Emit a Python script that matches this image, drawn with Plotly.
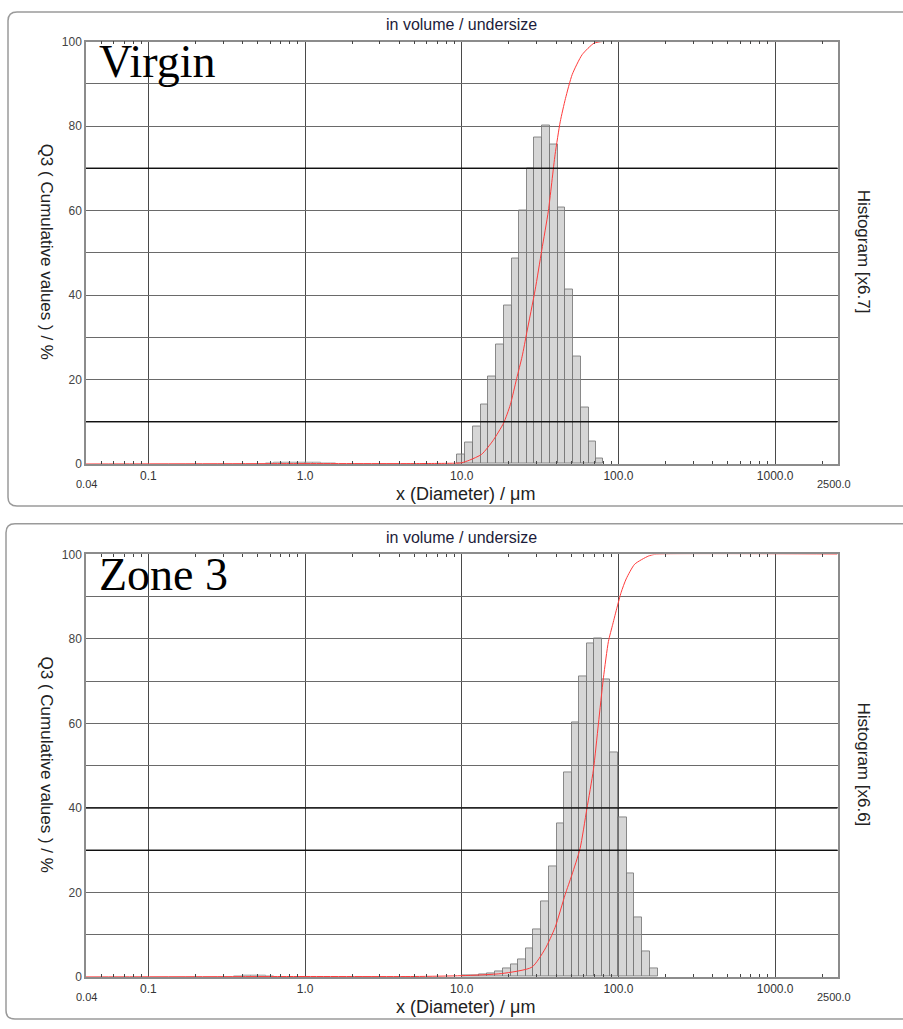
import numpy as np
import plotly.graph_objects as go

W, H = 903, 1029

# ---------------- data ----------------
# Panel 1: Virgin  (histogram shown on the 0-100 scale, x6.7)
virgin_edges_um = [9.3, 10.5, 11.75, 13.2, 14.8, 16.6, 18.5, 20.8, 23.2, 26.0,
                   29.0, 32.4, 36.6, 41.0, 45.7, 51.6, 57.5, 64.4, 71.9, 80.2]
virgin_hist = [2.3, 5.0, 8.9, 14.0, 20.6, 28.2, 37.4, 48.6, 59.9, 70.0,
               77.2, 80.2, 75.6, 60.7, 41.2, 25.5, 13.4, 5.4, 1.2]
virgin_fine_edges_um = [0.56, 0.63, 0.71, 0.79, 0.89, 1.0, 1.12, 1.26, 1.41, 1.58]
virgin_fine_hist = [0.2, 0.3, 0.4, 0.4, 0.4, 0.3, 0.3, 0.2, 0.2]
virgin_cum_x_um = [0.04, 1.0, 5.0, 9.3, 10.0, 11.2, 13.4, 15.8, 18.5, 20.4, 22.4,
                   24.3, 26.0, 29.4, 32.4, 35.7, 39.4, 42.5, 45.9, 50.7, 58.7,
                   69.8, 78.9, 100.0, 2500.0]
virgin_cum = [0.0, 0.1, 0.1, 0.2, 0.3, 0.9, 2.3, 5.5, 9.7, 14.0, 20.2,
              25.5, 31.1, 41.2, 50.6, 59.9, 73.2, 81.0, 86.5, 92.2, 96.9,
              99.6, 100.0, 100.0, 100.0]

# Panel 2: Zone 3  (histogram x6.6)
zone3_edges_um = [10.0, 11.3, 12.8, 14.45, 16.3, 18.45, 20.65, 23.0, 25.6, 28.6,
                  32.1, 36.1, 40.4, 45.2, 50.4, 56.4, 62.8, 70.3, 79.1, 88.5,
                  100.0, 113.0, 126.5, 141.0, 159.0, 178.0]
zone3_hist = [0.3, 0.4, 0.6, 0.9, 1.4, 1.9, 2.9, 4.1, 6.8, 11.3,
              17.9, 26.1, 36.4, 48.4, 60.3, 71.2, 79.0, 80.0, 70.4, 53.1,
              37.7, 24.4, 14.0, 6.0, 2.1]
zone3_fine_edges_um = [0.35, 0.40, 0.45, 0.50, 0.56, 0.63]
zone3_fine_hist = [0.2, 0.3, 0.3, 0.3, 0.2]
zone3_cum_x_um = [0.04, 1.0, 5.0, 10.0, 18.0, 28.0, 34.0, 39.4, 45.7, 50.4, 56.9,
                  62.8, 69.2, 74.5, 80.2, 86.3, 92.0, 98.0, 104.0, 112.0, 127.0,
                  155.0, 170.0, 2500.0]
zone3_cum = [0.0, 0.1, 0.1, 0.3, 0.8, 2.3, 6.6, 11.7, 19.5, 24.1, 30.4,
             39.7, 49.0, 59.9, 70.8, 79.4, 83.5, 87.5, 91.0, 94.2, 97.7,
             99.6, 100.0, 100.0]

x_tick_um = [0.1, 1.0, 10.0, 100.0, 1000.0]
x_tick_text = ["0.1", "1.0", "10.0", "100.0", "1000.0"]
x_min_um, x_max_um = 0.04, 2500.0
y_ticks = list(range(0, 101, 10))
y_tick_text = [str(v) if v % 20 == 0 else "" for v in y_ticks]
emph_lines = {"top": [70, 10], "bottom": [40, 30]}

panels = [
    dict(name="Virgin", key="top", edges=virgin_edges_um, hist=virgin_hist,
         fedges=virgin_fine_edges_um, fhist=virgin_fine_hist,
         cx=virgin_cum_x_um, cy=virgin_cum, factor="Histogram [x6.7]",
         y_top=35, y_bot=463.3, box=(8, 5, 912, 506)),
    dict(name="Zone 3", key="bottom", edges=zone3_edges_um, hist=zone3_hist,
         fedges=zone3_fine_edges_um, fhist=zone3_fine_hist,
         cx=zone3_cum_x_um, cy=zone3_cum, factor="Histogram [x6.6]",
         y_top=555, y_bot=983.3, box=(6, 524, 912, 1026)),
]

X0, X1 = 86, 837.5


def px(x):
    return x / W


def py(y):
    return 1 - y / H


minor_um = []
for dec in [0.01, 0.1, 1, 10, 100, 1000]:
    for m in range(2, 10):
        v = m * dec
        if x_min_um < v < x_max_um:
            minor_um.append(v)

fig = go.Figure()
shapes = []
annotations = []
FONT = "Liberation Sans, Arial, sans-serif"

for i, p in enumerate(panels):
    n = "" if i == 0 else str(i + 1)
    xa, ya = "x" + n, "y" + n
    # tiny sub-micron bars + main bars
    for edges, hist, lc in [(p["fedges"], p["fhist"], "rgba(150,150,150,0.5)"),
                            (p["edges"], p["hist"], "rgba(120,120,120,0.85)")]:
        le = np.log10(np.array(edges))
        centers = (le[:-1] + le[1:]) / 2
        widths = le[1:] - le[:-1]
        fig.add_trace(go.Bar(
            x=centers, y=hist, width=widths, base=0,
            marker=dict(color="rgba(165,165,165,0.45)",
                        line=dict(color=lc, width=1)),
            xaxis=xa, yaxis=ya, showlegend=False, hoverinfo="skip"))
    fig.add_trace(go.Scatter(
        x=np.log10(np.array(p["cx"])), y=p["cy"], mode="lines",
        line=dict(color="#ff3b3b", width=1, shape="spline", smoothing=0.6),
        xaxis=xa, yaxis=ya, showlegend=False, hoverinfo="skip"))

    dom_y = [py(p["y_bot"]), py(p["y_top"])]
    fig.update_layout(**{
        ("xaxis" + n): dict(
            domain=[px(X0), px(X1)], anchor=ya,
            range=[np.log10(x_min_um), np.log10(x_max_um)],
            tickmode="array", tickvals=list(np.log10(x_tick_um)), ticktext=x_tick_text,
            ticks="", showgrid=True, gridcolor="#4a4a4a", gridwidth=1.4,
            showline=True, linecolor="#8c8c8c", linewidth=1.5, mirror="ticks",
            zeroline=False, tickfont=dict(family=FONT, size=12, color="#333333"),
            minor=dict(tickmode="array", tickvals=list(np.log10(minor_um)),
                       ticks="inside", ticklen=3, tickwidth=1, tickcolor="#444444",
                       showgrid=False),
            fixedrange=True),
        ("yaxis" + n): dict(
            domain=dom_y, anchor=xa, range=[0, 100],
            tickmode="array", tickvals=y_ticks, ticktext=y_tick_text,
            ticks="", showgrid=True, gridcolor="#6a6a6a", gridwidth=1,
            showline=True, linecolor="#8c8c8c", linewidth=1.5, mirror=True,
            zeroline=False, tickfont=dict(family=FONT, size=12, color="#444444"),
            fixedrange=True),
    })
    for lv in emph_lines[p["key"]]:
        shapes.append(dict(type="line", xref=xa + " domain", yref=ya,
                           x0=0, x1=1, y0=lv, y1=lv, layer="above",
                           line=dict(color="rgba(0,0,0,0.85)", width=1.4)))
    # rounded panel box
    bx0, by0, bx1, by1 = p["box"]
    r = 9
    path = (f"M {px(bx0 + r)} {py(by0)} L {px(bx1)} {py(by0)} "
            f"M {px(bx1)} {py(by1)} L {px(bx0 + r)} {py(by1)} "
            f"Q {px(bx0)} {py(by1)} {px(bx0)} {py(by1 - r)} "
            f"L {px(bx0)} {py(by0 + r)} Q {px(bx0)} {py(by0)} {px(bx0 + r)} {py(by0)}")
    shapes.append(dict(type="path", xref="paper", yref="paper", path=path,
                       line=dict(color="#9a9a9a", width=1.5)))

    off = p["y_top"] - 35

    def ann(text, x, y, size, color="#222222", family=FONT, angle=0,
            xanchor="center", yanchor="middle"):
        annotations.append(dict(text=text, x=px(x), y=py(y + off), xref="paper",
                                yref="paper", showarrow=False, textangle=angle,
                                xanchor=xanchor, yanchor=yanchor,
                                font=dict(family=family, size=size, color=color)))
    ann("in volume / undersize", 461, 18, 16, color="#1c1c3a")
    ann(p["name"], 97, 55, 46, color="#000000",
        family="Liberation Serif, DejaVu Serif, serif", xanchor="left")
    ann("Q3 ( Cumulative values ) / %", 46, 248, 17, angle=90)
    ann(p["factor"], 863, 248, 17, angle=90)
    ann("x (Diameter) / μm", 465, 494, 18)
    ann("0.04", X0, 484, 11, color="#333333")
    ann("2500.0", X1 - 4, 484, 11, color="#333333")

fig.update_layout(
    width=W, height=H, margin=dict(l=0, r=0, t=0, b=0),
    paper_bgcolor="white", plot_bgcolor="white",
    barmode="overlay", bargap=0,
    shapes=shapes, annotations=annotations,
)

fig.write_html("out.html")
